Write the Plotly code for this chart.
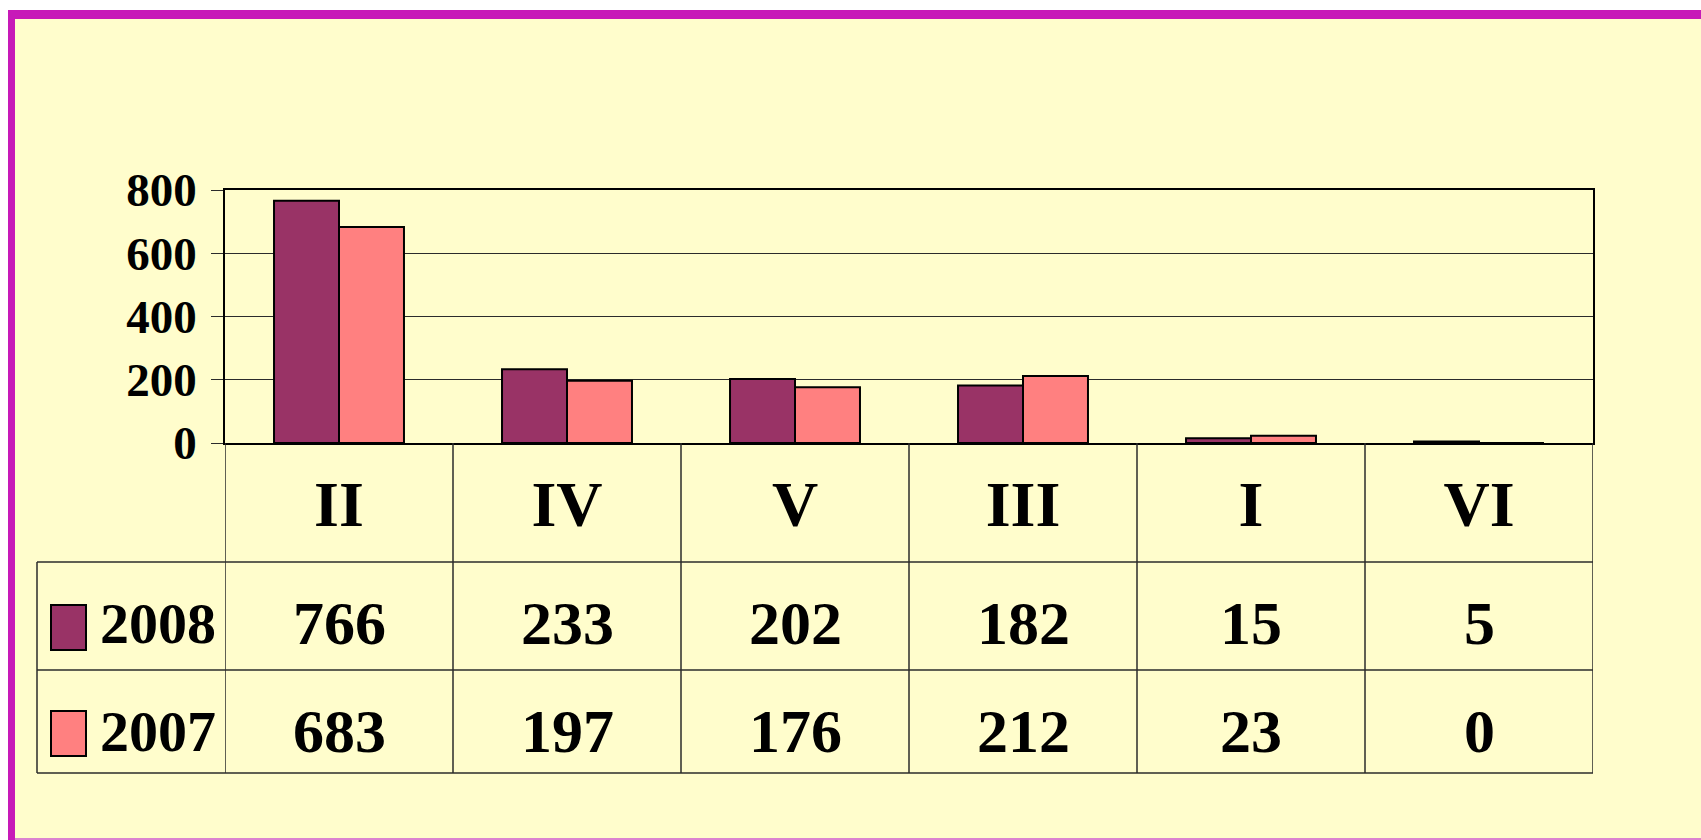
import plotly.graph_objects as go

categories = ["II", "IV", "V", "III", "I", "VI"]
series_names = ["2008", "2007"]
values_2008 = [766, 233, 202, 182, 15, 5]
values_2007 = [683, 197, 176, 212, 23, 0]
y_ticks = [0, 200, 400, 600, 800]
colors = ["#993366", "#FF8080"]

W, H = 1701, 840
def px(x):
    return x / W
def py(y):
    return 1 - y / H

FONT = "Liberation Serif"
LINE = "#2b2b2b"

fig = go.Figure()
for name, vals, col in zip(series_names, [values_2008, values_2007], colors):
    fig.add_trace(go.Bar(
        x=categories, y=vals, name=name,
        marker=dict(color=col, line=dict(color="black", width=2)),
        showlegend=False,
    ))

shapes = []
# page background / border
shapes.append(dict(type="rect", xref="paper", yref="paper", x0=px(8), x1=px(1705),
                   y0=py(10), y1=py(845), fillcolor="#C71AB8", line=dict(width=0), layer="below"))
shapes.append(dict(type="rect", xref="paper", yref="paper", x0=px(15), x1=px(1705),
                   y0=py(19), y1=py(838), fillcolor="#FFFDCC", line=dict(width=0), layer="below"))
shapes.append(dict(type="line", xref="paper", yref="paper", x0=px(15), x1=px(1705),
                   y0=py(839), y1=py(839), line=dict(color="#E3A6D8", width=1.5), layer="below"))

# table vertical lines
n = len(categories)
for k in range(n + 1):
    shapes.append(dict(type="line", xref="x", yref="paper", x0=k - 0.5, x1=k - 0.5,
                       y0=py(443), y1=py(773), line=dict(color=LINE, width=1.5)))
# left border of series rows
shapes.append(dict(type="line", xref="paper", yref="paper", x0=px(37), x1=px(37),
                   y0=py(562), y1=py(773), line=dict(color=LINE, width=1.5)))
# horizontal table lines
for yy in [562, 670, 773]:
    shapes.append(dict(type="line", xref="paper", yref="paper", x0=px(37), x1=px(1593),
                       y0=py(yy), y1=py(yy), line=dict(color=LINE, width=1.5)))

annotations = []
row_centers = [623, 731]
key_boxes = [(605, 650), (711, 756)]
for name, vals, col, yc, (k0, k1) in zip(series_names, [values_2008, values_2007], colors,
                                          row_centers, key_boxes):
    shapes.append(dict(type="rect", xref="paper", yref="paper", x0=px(51), x1=px(86),
                       y0=py(k0), y1=py(k1), fillcolor=col, line=dict(color="black", width=2)))
    annotations.append(dict(xref="paper", yref="paper", x=px(98), y=py(yc), text=name,
                            showarrow=False, xanchor="left", yanchor="middle",
                            font=dict(family=FONT, size=58, color="black", weight="bold")))
    for cat, v in zip(categories, vals):
        annotations.append(dict(xref="x", yref="paper", x=cat, y=py(yc), text=str(v),
                                showarrow=False, xanchor="center", yanchor="middle",
                                font=dict(family=FONT, size=62, color="black", weight="bold")))

fig.update_layout(
    width=W, height=H,
    margin=dict(l=0, r=0, t=0, b=0, autoexpand=False),
    paper_bgcolor="white",
    plot_bgcolor="rgba(0,0,0,0)",
    barmode="group", bargap=0.43, bargroupgap=0,
    shapes=shapes, annotations=annotations,
    xaxis=dict(domain=[px(225), px(1593)], showgrid=False, showline=True, mirror=True,
               linecolor="black", linewidth=1.5, ticks="", ticklabelstandoff=4,
               automargin=False,
               tickfont=dict(family=FONT, size=64, color="black", weight="bold"),
               range=[-0.5, n - 0.5], fixedrange=True),
    yaxis=dict(domain=[py(443), py(190)], range=[0, 800], tickvals=y_ticks,
               showgrid=True, gridcolor=LINE, gridwidth=1.2, zeroline=False,
               automargin=False,
               showline=True, mirror=True, linecolor="black", linewidth=1.5,
               ticks="outside", ticklen=12, tickcolor=LINE, tickwidth=1.2,
               ticklabelstandoff=5,
               tickfont=dict(family=FONT, size=47, color="black", weight="bold")),
)

fig.write_html("out.html", config={"displayModeBar": False},
               post_script="document.body.style.margin='0';document.body.style.overflow='hidden';")
